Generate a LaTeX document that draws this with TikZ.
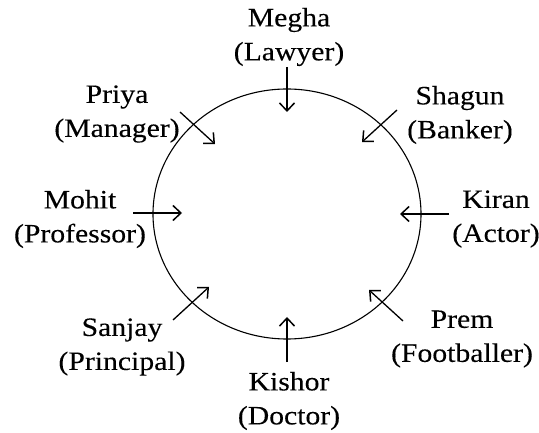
\documentclass[tikz,border=0pt]{standalone}
\usepackage{fontspec}
\setmainfont[FakeStretch=1.12,FakeBold=0.2]{Liberation Serif}
\usetikzlibrary{arrows.meta}
\begin{document}
\begin{tikzpicture}[x=1pt,y=-1pt,
  lbl/.style={align=center,inner sep=0pt,font=\fontsize{26.5}{34}\selectfont},
  arr/.style={line width=1.3pt,-{Straight Barb[length=8pt,width=15pt,line width=1.5pt]}},
  ring/.style={line width=1.1pt}]
\useasboundingbox (0,0) rectangle (539,433);
\draw[ring] (287,214) ellipse [x radius=134, y radius=125];
% labels
\node[lbl] (megha) at (289,37) {Megha\\(Lawyer)};
\node[lbl] (priya) at (117,114) {Priya\\(Manager)};
\node[lbl] (shagun) at (460,115) {Shagun\\(Banker)};
\node[lbl] (mohit) at (80,219) {Mohit\\(Professor)};
\node[lbl] (kiran) at (496,219) {Kiran\\(Actor)};
\node[lbl] (sanjay) at (122,347) {Sanjay\\(Principal)};
\node[lbl] (prem) at (462,339) {Prem\\(Footballer)};
\node[lbl] (kishor) at (289,401) {Kishor\\(Doctor)};
% arrow ends
\coordinate (ma) at (287,67);  \coordinate (mb) at (287,112);
\coordinate (pa) at (180,112); \coordinate (pb) at (215,144);
\coordinate (sa) at (397,110); \coordinate (sb) at (362,142);
\coordinate (moa) at (133,213); \coordinate (mob) at (182,213);
\coordinate (ka) at (449,214); \coordinate (kb) at (400,214);
\coordinate (sja) at (173,320); \coordinate (sjb) at (209,287);
\coordinate (ksa) at (287,362); \coordinate (ksb) at (287,317);
\coordinate (pra) at (403,321); \coordinate (prb) at (369,290);
\draw[arr] (ma) -- (mb);
\draw[arr] (pa) -- (pb);
\draw[arr] (sa) -- (sb);
\draw[arr] (moa) -- (mob);
\draw[arr] (ka) -- (kb);
\draw[arr] (sja) -- (sjb);
\draw[arr] (ksa) -- (ksb);
\draw[arr] (pra) -- (prb);
\end{tikzpicture}
\end{document}
